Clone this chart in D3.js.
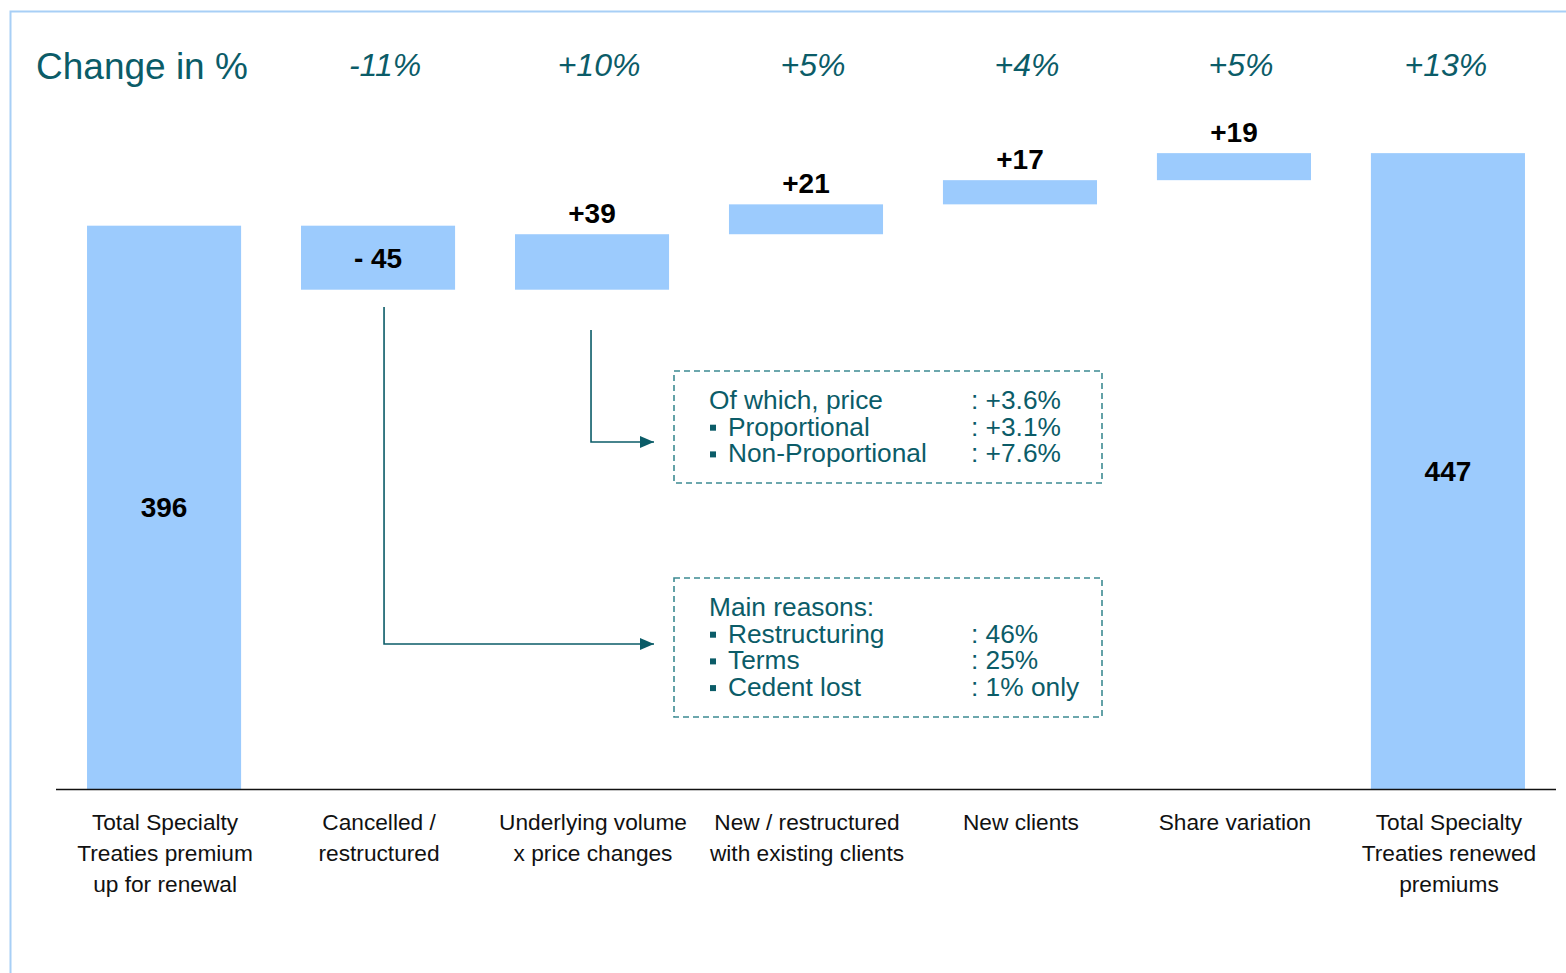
<!DOCTYPE html>
<html lang="en">
<head>
<meta charset="utf-8">
<script src="https://d3js.org/d3.v7.min.js"></script>
<style>
  body { margin: 0; background: #fff; }
  svg text { font-family: "Liberation Sans", Arial, sans-serif; }
</style>
</head>
<body>
<script>
// categories along the bottom
const categories = [
  ["Total Specialty", "Treaties premium", "up for renewal"],
  ["Cancelled /", "restructured"],
  ["Underlying volume", "x price changes"],
  ["New / restructured", "with existing clients"],
  ["New clients"],
  ["Share variation"],
  ["Total Specialty", "Treaties renewed", "premiums"]
];
// waterfall values (first and last are totals)
const values = [396, -45, 39, 21, 17, 19, 447];
const isTotal = [true, false, false, false, false, false, true];
const valueLabels = ["396", "- 45", "+39", "+21", "+17", "+19", "447"];
const pctLabels = ["", "-11%", "+10%", "+5%", "+4%", "+5%", "+13%"];

const priceRows = [["Of which, price", ": +3.6%", false], ["Proportional", ": +3.1%", true], ["Non-Proportional", ": +7.6%", true]];
const reasonRows = [["Main reasons:", "", false], ["Restructuring", ": 46%", true], ["Terms", ": 25%", true], ["Cedent lost", ": 1% only", true]];

const W = 1566, H = 973;
const teal = "#0b5c68", barFill = "#9ccbfd";

const svg = d3.select("body").append("svg")
  .attr("width", W).attr("height", H);

// frame
svg.append("path")
  .attr("d", "M10.5," + H + " V11.5 H" + W)
  .attr("fill", "none").attr("stroke", "#a8cff6").attr("stroke-width", 2);

const x = d3.scaleBand()
  .domain(d3.range(categories.length))
  .range([56, 1556])
  .paddingInner(0.28)
  .paddingOuter(0.145);

const y = d3.scaleLinear().domain([0, 400]).range([789, 220]);

// compute waterfall segments
let run = 0;
const bars = values.map(function(v, i) {
  let lo, hi;
  if (isTotal[i]) { lo = 0; hi = v; run = v; }
  else { lo = Math.min(run, run + v); hi = Math.max(run, run + v); run += v; }
  return {i: i, lo: lo, hi: hi, v: v};
});

svg.selectAll("rect.bar").data(bars).enter().append("rect")
  .attr("class", "bar")
  .attr("x", d => x(d.i))
  .attr("width", x.bandwidth())
  .attr("y", d => y(d.hi))
  .attr("height", d => y(d.lo) - y(d.hi))
  .attr("fill", barFill);

// baseline
svg.append("line")
  .attr("x1", 56).attr("x2", 1556)
  .attr("y1", y(0) + 0.5).attr("y2", y(0) + 0.5)
  .attr("stroke", "#111").attr("stroke-width", 1.5);

// value labels
svg.selectAll("text.val").data(bars).enter().append("text")
  .attr("class", "val")
  .attr("x", d => x(d.i) + x.bandwidth() / 2)
  .attr("y", function(d) {
    if (isTotal[d.i] || d.v < 0) return (y(d.lo) + y(d.hi)) / 2 + 10;
    return y(d.hi) - 11;
  })
  .attr("text-anchor", "middle")
  .attr("font-size", 28).attr("font-weight", "bold").attr("fill", "#000")
  .text(d => valueLabels[d.i]);

// percent change row
svg.append("text")
  .attr("x", 36).attr("y", 79)
  .attr("font-size", 37).attr("fill", teal)
  .text("Change in %");

svg.selectAll("text.pct").data(pctLabels).enter().append("text")
  .attr("class", "pct")
  .attr("x", (d, i) => x(i) + x.bandwidth() / 2 + (i === 6 ? -2 : 7))
  .attr("y", 76)
  .attr("text-anchor", "middle")
  .attr("font-size", 32).attr("font-style", "italic").attr("fill", teal)
  .text(d => d);

// category labels
categories.forEach(function(lines, i) {
  const cx = x(i) + x.bandwidth() / 2 + 1;
  const t = svg.append("text")
    .attr("x", cx)
    .attr("y", 830)
    .attr("text-anchor", "middle")
    .attr("font-size", 22.7).attr("fill", "#111");
  lines.forEach(function(s, k) {
    t.append("tspan").attr("x", cx).attr("dy", k ? 31 : 0).text(s);
  });
});

// arrows
svg.append("defs").append("marker")
  .attr("id", "arr").attr("viewBox", "0 0 14 12")
  .attr("refX", 14).attr("refY", 6)
  .attr("markerWidth", 14).attr("markerHeight", 12)
  .attr("markerUnits", "userSpaceOnUse")
  .attr("orient", "auto")
  .append("path").attr("d", "M0,0 L14,6 L0,12 z").attr("fill", teal);

const cx1 = x(1) + x.bandwidth() / 2 + 6;
const cx2 = x(2) + x.bandwidth() / 2 - 1;
svg.append("path")
  .attr("d", "M" + cx1 + ",307 V644 H654")
  .attr("fill", "none").attr("stroke", teal).attr("stroke-width", 1.6)
  .attr("marker-end", "url(#arr)");
svg.append("path")
  .attr("d", "M" + cx2 + ",330 V442 H654")
  .attr("fill", "none").attr("stroke", teal).attr("stroke-width", 1.6)
  .attr("marker-end", "url(#arr)");

// annotation boxes
function noteBox(top, h, rows, textTop) {
  svg.append("rect")
    .attr("x", 674).attr("y", top).attr("width", 428).attr("height", h)
    .attr("fill", "none").attr("stroke", "#3d8a92").attr("stroke-width", 1.6)
    .attr("stroke-dasharray", "6,4");
  rows.forEach(function(r, k) {
    const yy = textTop + k * 26.7;
    if (r[2]) {
      svg.append("rect").attr("x", 710).attr("y", yy - 11).attr("width", 6).attr("height", 6).attr("fill", teal);
    }
    svg.append("text").attr("x", r[2] ? 728 : 709).attr("y", yy)
      .attr("font-size", 26.3).attr("fill", teal).text(r[0]);
    if (r[1]) svg.append("text").attr("x", 971).attr("y", yy)
      .attr("font-size", 26.3).attr("fill", teal).text(r[1]);
  });
}
noteBox(371, 112, priceRows, 409);
noteBox(578, 139, reasonRows, 616);
</script>
</body>
</html>
